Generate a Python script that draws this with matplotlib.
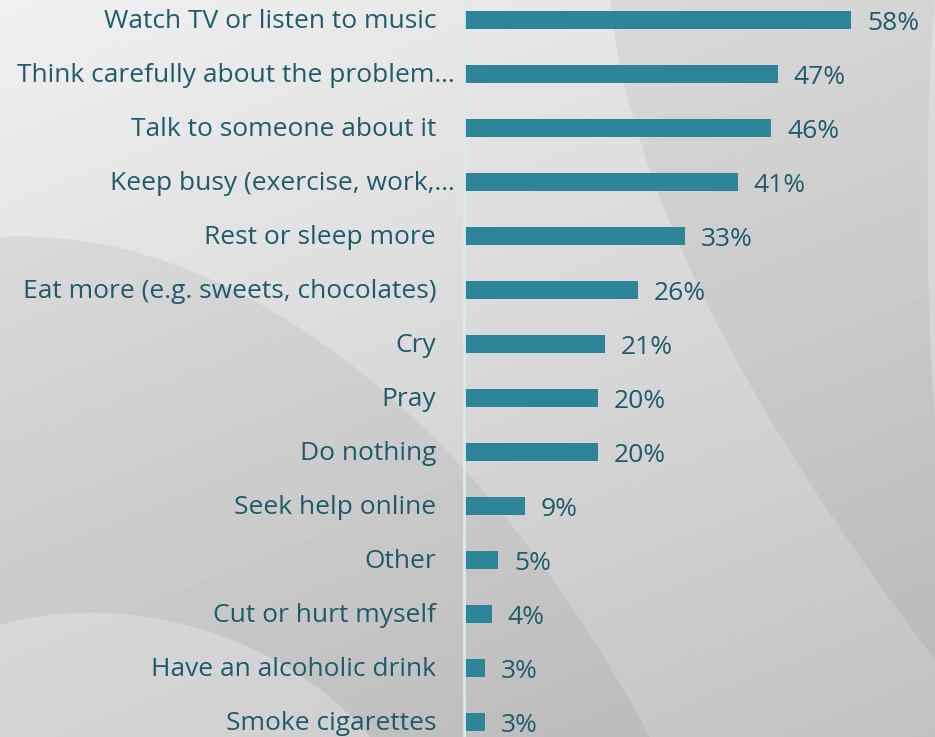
import numpy as np
import matplotlib.pyplot as plt
from matplotlib.patches import PathPatch
from matplotlib.path import Path

categories = ["Watch TV or listen to music", "Think carefully about the problem…",
              "Talk to someone about it", "Keep busy (exercise, work,…",
              "Rest or sleep more", "Eat more (e.g. sweets, chocolates)", "Cry", "Pray",
              "Do nothing", "Seek help online", "Other", "Cut or hurt myself",
              "Have an alcoholic drink", "Smoke cigarettes"]
values = [58, 47, 46, 41, 33, 26, 21, 20, 20, 9, 5, 4, 3, 3]

BAR_COLOR = "#2E8599"
TEXT_COLOR = "#1F5B6B"
plt.rcParams['font.family'] = ['Open Sans', 'DejaVu Sans']

W, H = 935, 737
fig = plt.figure(figsize=(W / 100, H / 100), dpi=100)


def curved_shape(start, c1, c2, end, closing):
    # cubic curve edge, closed with straight segments through the closing points
    verts = [start, c1, c2, end] + closing + [start]
    codes = [Path.MOVETO, Path.CURVE4, Path.CURVE4, Path.CURVE4] + \
            [Path.LINETO] * len(closing) + [Path.CLOSEPOLY]
    return Path(verts, codes)


# background: grey gradient with soft swooshes (pixel coords, y down)
bg = fig.add_axes([0, 0, 1, 1])
yy, xx = np.mgrid[0:1:200j, 0:1:200j]
shade = 0.94 - 0.12 * yy - 0.06 * xx
bg.imshow(shade, cmap="gray", vmin=0, vmax=1, extent=[0, W, H, 0], aspect="auto")
bg.add_patch(PathPatch(curved_shape((0, 237), (220, 225), (470, 400), (650, 737),
                                    [(0, 737)]), color="black", alpha=0.05, lw=0))
bg.add_patch(PathPatch(curved_shape((610, 0), (630, 200), (760, 430), (935, 660),
                                    [(935, 0)]), color="black", alpha=0.05, lw=0))
bg.add_patch(PathPatch(curved_shape((0, 625), (120, 590), (280, 630), (370, 737),
                                    [(0, 737)]), color="white", alpha=0.25, lw=0))
bg.add_patch(PathPatch(curved_shape((935, 0), (925, 100), (925, 300), (935, 420),
                                    []), color="white", alpha=0.25, lw=0))
bg.set_xlim(0, W)
bg.set_ylim(H, 0)
bg.axis("off")

ax = fig.add_axes([0, 0, 1, 1])
ax.patch.set_alpha(0)
px = 6.655  # pixels per percent
x0 = 465
ax.set_xlim(-x0 / px, (W - x0) / px)
ax.set_ylim((H - 20) / 54, -20 / 54)
ypos = np.arange(len(categories))
ax.barh(ypos, values, height=0.35, color=BAR_COLOR)
ax.axvline(-0.15, color="#d6ecf1", lw=2)
for y, lab, v in zip(ypos, categories, values):
    # truncated labels run right up to the axis line
    gap = 10 if lab.endswith("…") else 29
    ax.text(-gap / px, y + 0.02, lab, ha="right", va="center", fontsize=19, color=TEXT_COLOR)
    ax.text(v + 16 / px, y + 0.06, f"{v}%", ha="left", va="center", fontsize=19, color=TEXT_COLOR)
ax.axis("off")

fig.savefig("out.png", dpi=100)
